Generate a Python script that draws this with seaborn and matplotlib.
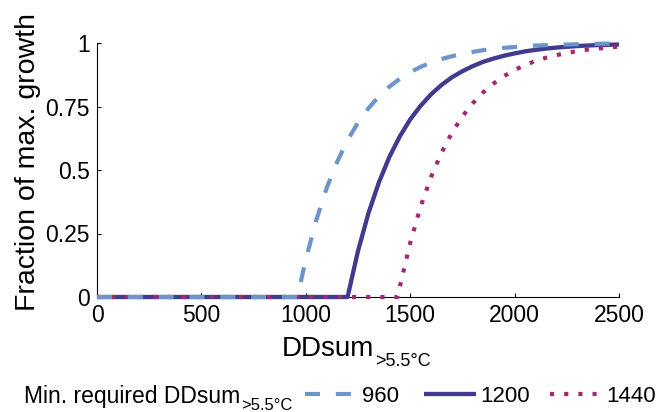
import matplotlib
matplotlib.use("Agg")
import matplotlib.pyplot as plt
import seaborn as sns
import pandas as pd

# Degree-day sums (x) and fraction of maximum growth (y) for three
# minimum required DDsum thresholds.
dd_960 = [0, 960, 1000, 1050, 1100, 1150, 1200, 1250, 1300, 1350, 1400, 1450,
          1500, 1550, 1600, 1650, 1700, 1750, 1800, 1850, 1900, 1950, 2000,
          2100, 2200, 2300, 2400, 2500]
growth_960 = [0, 0, 0.148, 0.302, 0.429, 0.532, 0.617, 0.687, 0.743, 0.790,
              0.828, 0.859, 0.885, 0.906, 0.923, 0.937, 0.948, 0.958, 0.965,
              0.972, 0.977, 0.981, 0.984, 0.990, 0.993, 0.995, 0.997, 0.998]

dd_1200 = [0, 1200, 1250, 1300, 1350, 1400, 1450, 1500, 1550, 1600, 1650,
           1700, 1750, 1800, 1850, 1900, 1950, 2000, 2050, 2100, 2150, 2200,
           2300, 2400, 2500]
growth_1200 = [0, 0, 0.181, 0.330, 0.451, 0.551, 0.632, 0.699, 0.753, 0.798,
               0.835, 0.865, 0.889, 0.909, 0.926, 0.939, 0.950, 0.959, 0.967,
               0.973, 0.978, 0.982, 0.988, 0.992, 0.994]

dd_1440 = [0, 1440, 1450, 1500, 1550, 1600, 1650, 1700, 1750, 1800, 1850,
           1900, 1950, 2000, 2050, 2100, 2150, 2200, 2250, 2300, 2350, 2400,
           2450, 2500]
growth_1440 = [0, 0, 0.039, 0.213, 0.356, 0.473, 0.568, 0.647, 0.711, 0.763,
               0.806, 0.841, 0.870, 0.894, 0.913, 0.929, 0.942, 0.952, 0.961,
               0.968, 0.974, 0.978, 0.982, 0.986]

labels = ["960", "1200", "1440"]
x_ticks = [0, 500, 1000, 1500, 2000, 2500]
y_ticks = [0, 0.25, 0.5, 0.75, 1]
y_tick_labels = ["0", "0.25", "0.5", "0.75", "1"]

W, H = 660, 412

sns.set_style("ticks")
plt.rcParams["font.family"] = ["Liberation Sans", "DejaVu Sans"]
plt.rcParams["text.color"] = "black"

fig = plt.figure(figsize=(W / 100, H / 100), dpi=100)
ax = fig.add_axes([97 / W, 1 - 297 / H, (619 - 97) / W, (297 - 43) / H])

c_960 = "#6e94cc"
c_1200 = "#403b8e"
c_1440 = "#a3286f"

df_1200 = pd.DataFrame({"dd": dd_1200, "growth": growth_1200})
df_1440 = pd.DataFrame({"dd": dd_1440, "growth": growth_1440})
df_960 = pd.DataFrame({"dd": dd_960, "growth": growth_960})

sns.lineplot(data=df_1200, x="dd", y="growth", ax=ax, color=c_1200, lw=3.1,
             sort=False, estimator=None, label=labels[1], clip_on=False,
             solid_capstyle="butt", zorder=3)
sns.lineplot(data=df_1440, x="dd", y="growth", ax=ax, color=c_1440, lw=3.0,
             sort=False, estimator=None, label=labels[2], clip_on=False,
             linestyle=(0, (1.0, 2.4)), dash_capstyle="butt", zorder=4)
sns.lineplot(data=df_960, x="dd", y="growth", ax=ax, color=c_960, lw=3.0,
             sort=False, estimator=None, label=labels[0], clip_on=False,
             linestyle=(0, (3.6, 3.8)), dash_capstyle="butt", zorder=5)

ax.set_xlim(0, 2500)
ax.set_ylim(0, 1)
ax.set_xticks(x_ticks)
ax.set_xticklabels([str(v) for v in x_ticks])
ax.set_yticks(y_ticks)
ax.set_yticklabels(y_tick_labels)
ax.tick_params(direction="in", length=3, width=0.8, labelsize=16.5,
               colors="black", pad=5)
for side in ("left", "bottom"):
    ax.spines[side].set_linewidth(0.8)
    ax.spines[side].set_color("black")
sns.despine(ax=ax)
ax.set_xlabel("")
ax.set_ylabel("")

renderer = fig.canvas.get_renderer()


def text_with_subscript(x_px, y_px, main, sub, size, sub_size, drop_px):
    """Draw `main` with baseline at (x_px, y_px) and `sub` right after it,
    lowered by drop_px."""
    t = fig.text(x_px / W, 1 - y_px / H, main, fontsize=size, ha="left",
                 va="baseline")
    x_end = t.get_window_extent(renderer).x1
    fig.text(x_end / W + 0.5 / W, 1 - (y_px + drop_px) / H, sub,
             fontsize=sub_size, ha="left", va="baseline")


# Axis titles
text_with_subscript(282, 356, "DDsum", ">5.5°C", 20, 13, 10)
fig.text(35 / W, 1 - 162 / H, "Fraction of max. growth", fontsize=20.5,
         rotation=90, rotation_mode="anchor", ha="center", va="baseline")

# Horizontal legend with its caption on the left
text_with_subscript(24, 403, "Min. required DDsum", ">5.5°C", 16.5, 12, 7)

handles, labs = ax.get_legend_handles_labels()
ax.get_legend().remove()
entry_x = {"960": 305, "1200": 424, "1440": 550}
for lab in labels:
    h = handles[labs.index(lab)]
    fig.legend([h], [lab], loc="center left",
               bbox_to_anchor=(entry_x[lab] / W, 1 - 396 / H),
               frameon=False, fontsize=16, handlelength=2.35,
               handletextpad=0.2, borderpad=0, borderaxespad=0)

fig.savefig("out.png", dpi=100, facecolor="white")
